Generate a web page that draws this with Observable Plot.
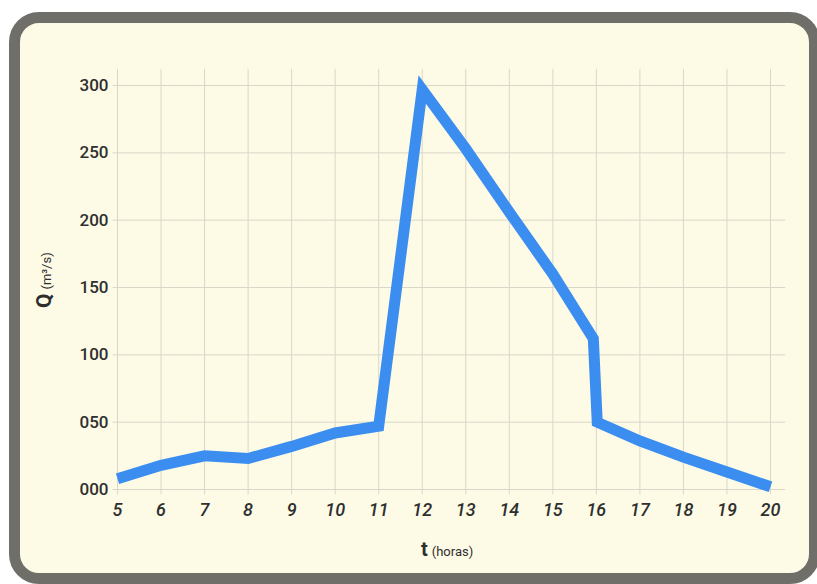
<!DOCTYPE html>
<html>
<head>
<meta charset="utf-8">
<script src="https://cdn.jsdelivr.net/npm/d3@7"></script>
<script src="https://cdn.jsdelivr.net/npm/@observablehq/plot@0.6"></script>
<style>
  html, body { margin: 0; padding: 0; background: #ffffff; }
  #stage { position: relative; width: 817px; height: 584px; overflow: hidden; background: #ffffff; }
  #frame { position: absolute; left: 9px; top: 12px; width: 811px; height: 572px; box-sizing: border-box;
           border: 11px solid #6f6e69; border-radius: 30px; background: #fdfbe6; }
  #chart { position: absolute; left: 0; top: 0; }
  #chart svg { background: transparent; }
  g[aria-label="x-axis tick label"] text { font-style: italic; }
  .lab { position: absolute; color: #2e2e2e; font-family: Roboto, "Liberation Sans", Arial, sans-serif; white-space: nowrap; line-height: 1; }
  #xlab { left: 421px; top: 539px; }
  #xlab b { font-size: 20px; font-weight: 700; }
  #xlab span { font-size: 13px; }
  #ylab { left: 44px; top: 308px; transform-origin: 0 0; transform: rotate(-90deg) translateY(-50%); }
  #ylab b { font-size: 21px; font-weight: 700; }
  #ylab span { font-size: 13px; }
</style>
</head>
<body>
<div id="stage">
  <div id="frame"></div>
  <div id="chart"></div>
  <div class="lab" id="ylab"><b>Q</b> <span>(m³/s)</span></div>
  <div class="lab" id="xlab"><b>t</b> <span>(horas)</span></div>
</div>
<script>
// Data
const hours = [5, 6, 7, 8, 9, 10, 11, 12, 13, 14, 15, 15.93, 16.02, 17, 18, 19, 20];
const flow  = [8, 18, 25, 23, 32, 42, 47, 297, 253, 206, 160, 112, 50, 36, 24, 13, 2];
const xTicks = [5, 6, 7, 8, 9, 10, 11, 12, 13, 14, 15, 16, 17, 18, 19, 20];
const yTicks = [0, 50, 100, 150, 200, 250, 300];

const rows = hours.map((h, i) => ({t: h, q: flow[i]}));

const chart = Plot.plot({
  width: 817,
  height: 584,
  marginLeft: 117,
  marginRight: 47,
  marginTop: 85,
  marginBottom: 95,
  style: {background: "transparent", fontFamily: "Roboto, 'Liberation Sans', Arial, sans-serif", color: "#333"},
  x: {domain: [5, 20]},
  y: {domain: [0, 300]},
  marks: [
    Plot.ruleX(xTicks, {x: d => d, y1: -4, y2: 312, stroke: "#d9d7c9", strokeWidth: 1}),
    Plot.ruleY(yTicks, {y: d => d, x1: 4.9, x2: 20.35, stroke: "#d9d7c9", strokeWidth: 1}),
    Plot.axisY({ticks: yTicks, tickFormat: d3.format("03d"), tickSize: 0, tickPadding: 9, fontSize: 17, fontWeight: 500, label: null, fill: "#2f2f2f"}),
    Plot.axisX({ticks: xTicks, tickFormat: d => String(d), tickSize: 0, tickPadding: 14, fontSize: 18, fontWeight: 500, fontStyle: "italic", label: null, fill: "#2f2f2f"}),
    Plot.line(rows, {x: "t", y: "q", stroke: "#3b8ef0", strokeWidth: 11, strokeLinejoin: "miter", strokeMiterlimit: 4, strokeLinecap: "butt"})
  ]
});
document.getElementById("chart").appendChild(chart);
</script>
</body>
</html>
